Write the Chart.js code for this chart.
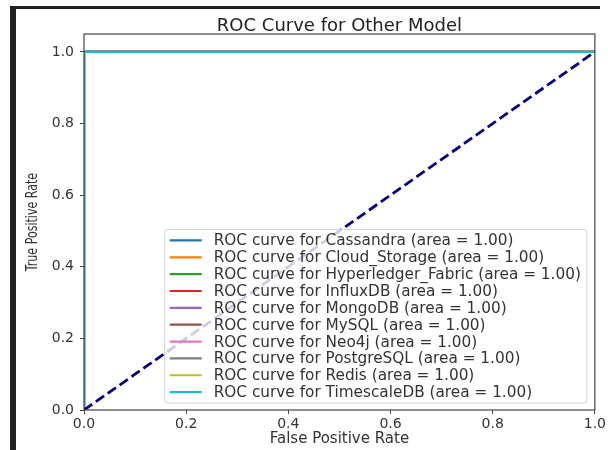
<!DOCTYPE html>
<html>
<head>
<meta charset="utf-8">
<script src="https://cdn.jsdelivr.net/npm/chart.js"></script>
<style>
    html, body { margin: 0; padding: 0; background: #fff; }
    #wrap { position: relative; width: 608px; height: 450px; overflow: hidden; }
    #roc { position: absolute; left: 0; top: 0; }
    .bar { position: absolute; background: #222; }
</style>
</head>
<body>
<div id="wrap">
    <canvas id="roc" width="608" height="450"></canvas>
    <div class="bar" style="left:10px; top:6px; width:6px; height:444px;"></div>
    <div class="bar" style="left:10px; top:6px; width:590px; height:3px;"></div>
</div>
<script>
const chartTitle = 'ROC Curve for Other Model';
const yLabel = 'True Positive Rate';

// classes and their AUC values
const classNames = ['Cassandra', 'Cloud_Storage', 'Hyperledger_Fabric', 'InfluxDB', 'MongoDB',
    'MySQL', 'Neo4j', 'PostgreSQL', 'Redis', 'TimescaleDB'];
const aucValues = [1.00, 1.00, 1.00, 1.00, 1.00, 1.00, 1.00, 1.00, 1.00, 1.00];

// every class gives the same perfect curve
const rocFpr = [0, 0, 1];
const rocTpr = [0, 1, 1];

// chance line
const chanceFpr = [0, 1];
const chanceTpr = [0, 1];

const xTickVals = [0, 0.2, 0.4, 0.6, 0.8, 1.0];
const yTickVals = [0, 0.2, 0.4, 0.6, 0.8, 1.0];

const tab10 = ['#1f77b4', '#ff7f0e', '#2ca02c', '#d62728', '#9467bd',
    '#8c564b', '#e377c2', '#7f7f7f', '#bcbd22', '#17becf'];

const toPoints = (xs, ys) => xs.map((x, i) => ({ x: x, y: ys[i] }));

// later classes are painted over earlier ones (lower order = drawn on top)
const datasets = classNames.map((name, i) => ({
    label: 'ROC curve for ' + name + ' (area = ' + aucValues[i].toFixed(2) + ')',
    data: toPoints(rocFpr, rocTpr),
    borderColor: tab10[i],
    borderWidth: 2.2,
    pointRadius: 0,
    tension: 0,
    fill: false,
    order: classNames.length - i,
}));

datasets.push({
    label: '',
    data: toPoints(chanceFpr, chanceTpr),
    borderColor: 'navy',
    borderWidth: 2.8,
    borderDash: [10, 4.5],
    pointRadius: 0,
    tension: 0,
    fill: false,
    order: 0,
});

// axes frame on all four sides, title centred over the plot, narrow y label
const framePlugin = {
    id: 'frame',
    afterDatasetsDraw(chart) {
        const { ctx, chartArea: a } = chart;
        ctx.save();
        ctx.strokeStyle = '#444';
        ctx.lineWidth = 1.2;
        ctx.strokeRect(a.left, a.top, a.right - a.left, a.bottom - a.top);

        ctx.font = '18px "DejaVu Sans", sans-serif';
        ctx.fillStyle = '#222';
        ctx.textAlign = 'center';
        ctx.textBaseline = 'alphabetic';
        ctx.fillText(chartTitle, (a.left + a.right) / 2, a.top - 3);

        // the y label in the source image is squeezed sideways
        ctx.translate(33, (a.top + a.bottom) / 2);
        ctx.rotate(-Math.PI / 2);
        ctx.scale(0.82, 1);
        ctx.font = '15px "DejaVu Sans Condensed", "DejaVu Sans", sans-serif';
        ctx.fillStyle = '#333';
        ctx.textBaseline = 'middle';
        ctx.fillText(yLabel, 0, 0);
        ctx.restore();
    }
};

// legend box in the lower right corner of the plot
const legendPlugin = {
    id: 'mplLegend',
    afterDatasetsDraw(chart) {
        const { ctx, chartArea: a } = chart;
        const items = chart.data.datasets.filter(d => d.label);
        const rowH = 16.85;
        const padX = 5, handleLen = 32, gap = 12, padTop = 2.5, padBottom = 2.5;
        ctx.save();
        ctx.font = '15.3px "DejaVu Sans", sans-serif';
        const textW = Math.max(...items.map(d => ctx.measureText(d.label).width));
        const boxW = padX + handleLen + gap + textW + 6;
        const boxH = padTop + rowH * items.length + padBottom;
        const right = a.right - 8;
        const bottom = a.bottom - 7;
        const left = right - boxW;
        const top = bottom - boxH;

        ctx.beginPath();
        ctx.roundRect(left, top, boxW, boxH, 3);
        ctx.fillStyle = 'rgba(255,255,255,0.8)';
        ctx.fill();
        ctx.strokeStyle = 'rgba(204,204,204,0.9)';
        ctx.lineWidth = 1;
        ctx.stroke();

        ctx.textBaseline = 'middle';
        ctx.textAlign = 'left';
        items.forEach((d, i) => {
            const y = top + padTop + rowH * (i + 0.5);
            ctx.beginPath();
            ctx.moveTo(left + padX, y);
            ctx.lineTo(left + padX + handleLen, y);
            ctx.strokeStyle = d.borderColor;
            ctx.lineWidth = 2.2;
            ctx.stroke();
            ctx.fillStyle = '#333';
            ctx.fillText(d.label, left + padX + handleLen + gap, y + 1);
        });
        ctx.restore();
    }
};

new Chart(document.getElementById('roc'), {
    type: 'line',
    data: { datasets: datasets },
    plugins: [framePlugin, legendPlugin],
    options: {
        responsive: false,
        animation: false,
        layout: { padding: { left: 0, right: 12, top: 34, bottom: 0 } },
        plugins: {
            legend: { display: false },
            tooltip: { enabled: false },
            title: { display: false },
        },
        scales: {
            x: {
                type: 'linear',
                min: 0,
                max: 1,
                afterBuildTicks: scale => { scale.ticks = xTickVals.map(v => ({ value: v })); },
                afterFit: scale => { scale.height = 40; },
                grid: { drawOnChartArea: false, drawTicks: true, tickLength: 4, color: '#444' },
                border: { display: false },
                ticks: {
                    padding: 2,
                    color: '#333',
                    font: { family: '"DejaVu Sans", sans-serif', size: 14 },
                    callback: v => v.toFixed(1),
                    maxRotation: 0,
                },
                title: {
                    display: true,
                    text: 'False Positive Rate',
                    color: '#333',
                    font: { family: '"DejaVu Sans", sans-serif', size: 15 },
                    padding: { top: 0, bottom: 2 },
                },
            },
            y: {
                type: 'linear',
                min: 0,
                max: 1.05,
                afterBuildTicks: scale => { scale.ticks = yTickVals.map(v => ({ value: v })); },
                afterFit: scale => { scale.width = 84; },
                grid: { drawOnChartArea: false, drawTicks: true, tickLength: 4, color: '#444' },
                border: { display: false },
                ticks: {
                    padding: 6,
                    color: '#333',
                    font: { family: '"DejaVu Sans", sans-serif', size: 14 },
                    callback: v => v.toFixed(1),
                },
            },
        },
    },
});
</script>
</body>
</html>
